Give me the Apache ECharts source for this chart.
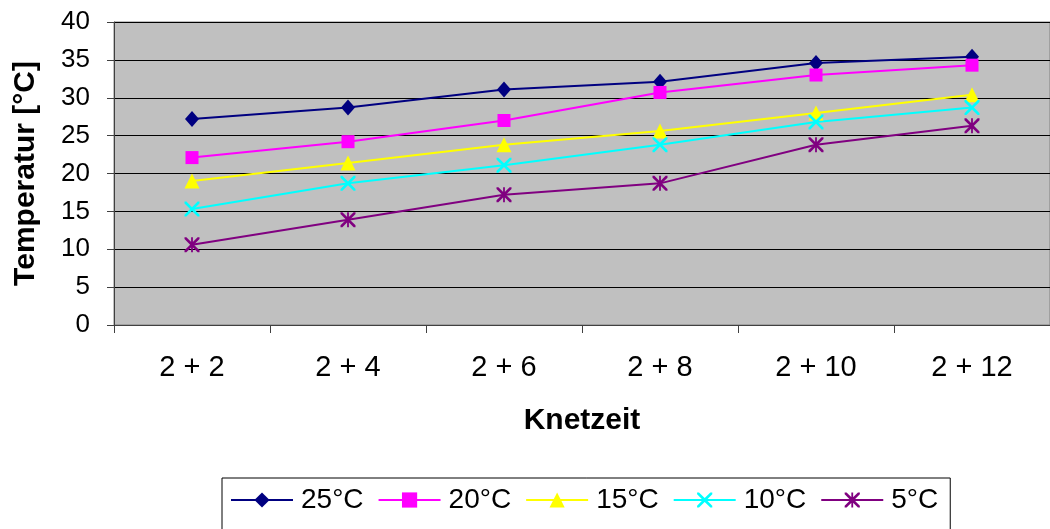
<!DOCTYPE html>
<html>
<head>
<meta charset="utf-8">
<script src="https://cdn.jsdelivr.net/npm/echarts@6/dist/echarts.min.js"></script>
<style>html,body{margin:0;padding:0;background:#fff;}#c{width:1050px;height:529px;}</style>
</head>
<body>
<div id="c"></div>
<script>
var categories = ['2 + 2', '2 + 4', '2 + 6', '2 + 8', '2 + 10', '2 + 12'];
var seriesNames = ['25°C', '20°C', '15°C', '10°C', '5°C'];
var s25 = [27.2, 28.7, 31.1, 32.1, 34.6, 35.4];
var s20 = [22.1, 24.2, 27.0, 30.7, 33.0, 34.3];
var s15 = [19.0, 21.4, 23.8, 25.6, 28.0, 30.4];
var s10 = [15.3, 18.7, 21.1, 23.8, 26.8, 28.7];
var s5 = [10.6, 13.9, 17.2, 18.7, 23.8, 26.3];
var yTicks = [0, 5, 10, 15, 20, 25, 30, 35, 40];

var X_PATH = 'path://M0,0 L2.5,0 L10,7.5 L17.5,0 L20,0 L20,2.5 L12.5,10 L20,17.5 L20,20 L17.5,20 L10,12.5 L2.5,20 L0,20 L0,17.5 L7.5,10 L0,2.5 Z';
var AST_PATH = 'path://M0,0 L2.5,0 L10,7.5 L17.5,0 L20,0 L20,2.5 L12.5,10 L20,17.5 L20,20 L17.5,20 L10,12.5 L2.5,20 L0,20 L0,17.5 L7.5,10 L0,2.5 Z M8.8,0 L11.2,0 L11.2,20 L8.8,20 Z';

var styles = [
  {color: '#000080', symbol: 'diamond', size: [14, 16]},
  {color: '#FF00FF', symbol: 'rect', size: 13},
  {color: '#FFFF00', symbol: 'triangle', size: [15, 15]},
  {color: '#00FFFF', symbol: X_PATH, size: 15},
  {color: '#800080', symbol: AST_PATH, size: 15}
];
var dataSets = [s25, s20, s15, s10, s5];

var chart = echarts.init(document.getElementById('c'));
var FONT = '"Liberation Sans", Arial, sans-serif';
chart.setOption({
  animation: false,
  textStyle: {fontFamily: FONT, color: '#000'},
  grid: {left: 114, top: 22, right: -11, bottom: 204, show: true, backgroundColor: '#C0C0C0', borderColor: '#808080', borderWidth: 1},
  legend: {
    left: 222, top: 478,
    data: seriesNames,
    borderColor: '#000', borderWidth: 1,
    padding: [8, 12, 40, 8],
    itemWidth: 62, itemHeight: 19, itemGap: 14,
    textStyle: {fontFamily: FONT, fontSize: 28, color: '#000', padding: [0, 0, 0, 3]}
  },
  xAxis: {
    type: 'category', data: categories, boundaryGap: true,
    axisLine: {lineStyle: {color: '#404040', width: 1}},
    axisTick: {show: true, length: 8, lineStyle: {color: '#404040'}},
    axisLabel: {fontSize: 29, color: '#000', margin: 28, fontFamily: FONT},
    name: 'Knetzeit', nameLocation: 'middle', nameGap: 81,
    nameTextStyle: {fontSize: 30, fontWeight: 'bold', color: '#000', fontFamily: FONT}
  },
  yAxis: {
    type: 'value', min: 0, max: 40, interval: 5,
    axisLine: {show: true, lineStyle: {color: '#404040', width: 1}},
    axisTick: {show: true, length: 7, lineStyle: {color: '#404040'}},
    axisLabel: {fontSize: 26, color: '#000', margin: 24, fontFamily: FONT,
      formatter: function (v) { return yTicks.indexOf(v) >= 0 ? String(v) : ''; }},
    splitLine: {show: true, lineStyle: {color: '#000', width: 1}},
    name: 'Temperatur [°C]', nameLocation: 'middle', nameGap: 73,
    nameTextStyle: {fontSize: 30, fontWeight: 'bold', color: '#000', fontFamily: FONT}
  },
  series: seriesNames.map(function (n, i) {
    return {
      name: n, type: 'line', data: dataSets[i],
      symbol: styles[i].symbol, symbolSize: styles[i].size,
      showAllSymbol: true,
      lineStyle: {color: styles[i].color, width: 2},
      itemStyle: {color: styles[i].color, borderWidth: 0},
      emphasis: {disabled: true}
    };
  })
});
</script>
</body>
</html>
